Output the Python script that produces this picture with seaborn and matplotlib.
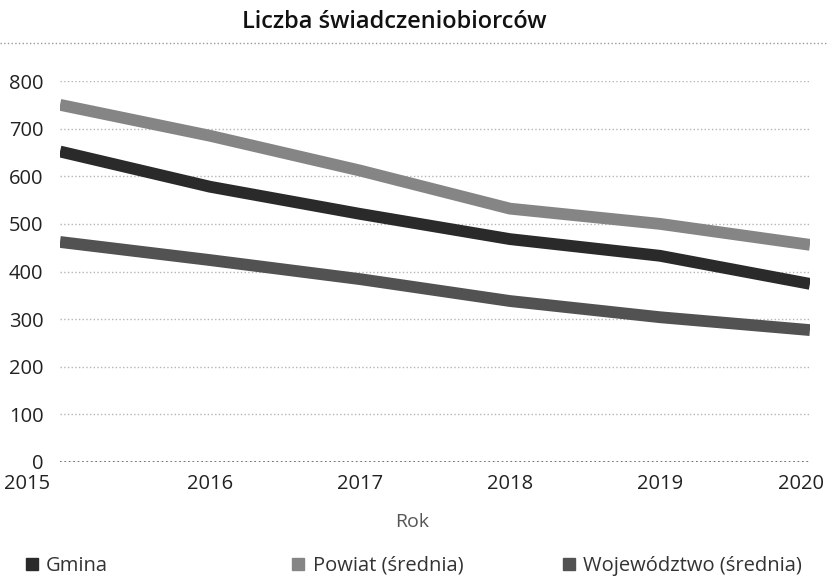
import pandas as pd
import matplotlib.pyplot as plt
import matplotlib.transforms as mtransforms
from matplotlib.lines import Line2D
import seaborn as sns

# dane
lata = [2015, 2016, 2017, 2018, 2019, 2020]
gmina = [652, 578, 521, 468, 433, 374]
powiat = [750, 685, 612, 532, 500, 456]
wojewodztwo = [462, 424, 384, 338, 304, 277]
serie = ['Gmina', 'Powiat (średnia)', 'Województwo (średnia)']
kolory = ['#2a2a2a', '#858585', '#525252']

df = pd.DataFrame({
    'Rok': lata * 3,
    'Wartosc': gmina + powiat + wojewodztwo,
    'Seria': [serie[0]] * 6 + [serie[1]] * 6 + [serie[2]] * 6,
})

sns.set_style('white')
plt.rcParams['font.family'] = ['Open Sans', 'DejaVu Sans']

fig = plt.figure(figsize=(8.29, 5.82), dpi=100)
ax = fig.add_axes([0.0724, 0.2062, 0.9046, 0.6546])

sns.lineplot(data=df, x='Rok', y='Wartosc', hue='Seria', hue_order=serie,
             palette=kolory, linewidth=8.5, ax=ax, legend=False,
             solid_capstyle='butt')

ax.set_xlim(2015, 2020)
ax.set_ylim(0, 800)
ax.set_yticks(range(0, 801, 100))
ax.set_xticks(lata)
ax.set_xlabel('')
ax.set_ylabel('')
for s in ax.spines.values():
    s.set_visible(False)
ax.yaxis.grid(True, linestyle=':', color='#b5b5b5', linewidth=1)
ax.axhline(0, linestyle=':', color='#555555', linewidth=1.2, zorder=0)
ax.tick_params(axis='both', length=0, labelsize=14.5, labelcolor='#222222')
ax.tick_params(axis='y', pad=12)
ax.tick_params(axis='x', pad=9)

# przesunięcie skrajnych etykiet osi x
etykiety = ax.get_xticklabels()
etykiety[0].set_transform(etykiety[0].get_transform() +
                          mtransforms.ScaledTranslation(-0.33, 0, fig.dpi_scale_trans))
etykiety[-1].set_transform(etykiety[-1].get_transform() +
                           mtransforms.ScaledTranslation(-0.09, 0, fig.dpi_scale_trans))

fig.text(0.476, 0.963, 'Liczba świadczeniobiorców', ha='center', va='center',
         fontsize=17, fontweight='semibold', color='#111111')
fig.add_artist(Line2D([0, 1], [0.926, 0.926], transform=fig.transFigure,
                      linestyle=':', color='#999999', linewidth=1))
fig.text(0.497, 0.103, 'Rok', ha='center', va='center', fontsize=14,
         color='#555555')

# legenda
pozycje = [0.004, 0.326, 0.652]
for nazwa, kolor, x in zip(serie, kolory, pozycje):
    uchwyt = Line2D([], [], marker='s', linestyle='none', color=kolor,
                    markersize=9)
    fig.legend([uchwyt], [nazwa], loc='center left', bbox_to_anchor=(x, 0.028),
               frameon=False, fontsize=14.5, handletextpad=0.2,
               handlelength=1.0, labelcolor='#333333')

plt.savefig('out.png', dpi=100)
